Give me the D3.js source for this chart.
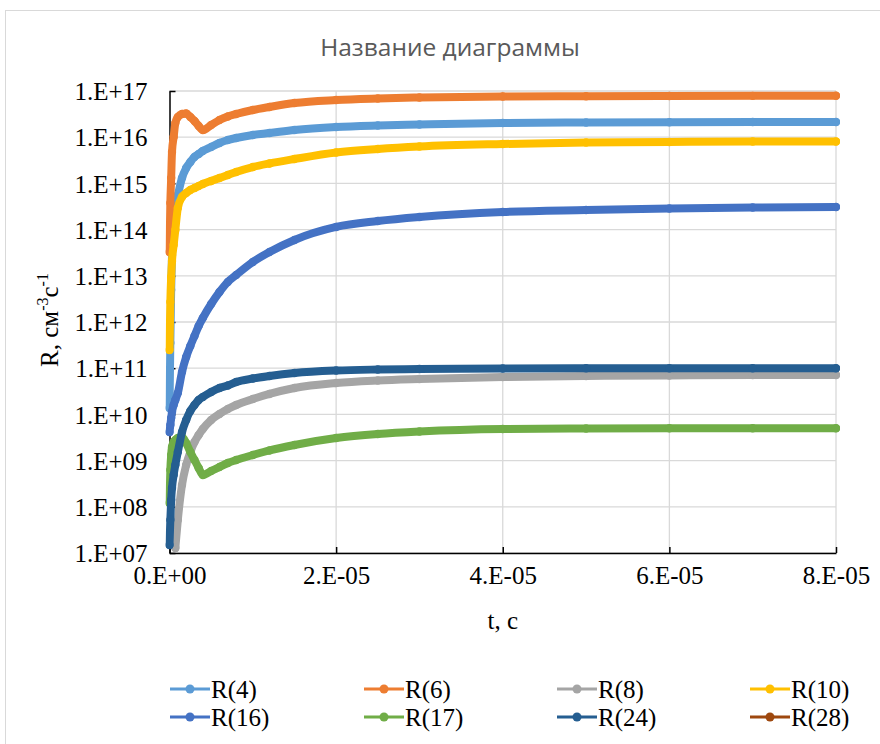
<!DOCTYPE html>
<html>
<head>
<meta charset="utf-8">
<script src="https://cdn.jsdelivr.net/npm/d3@7"></script>
<style>
  body { margin: 0; background: #fff; }
  svg { display: block; }
</style>
</head>
<body>
<svg id="chart" width="880" height="744"></svg>
<script>
// Time grid, s
const times = [0, 1e-7, 2e-7, 3e-7, 5e-7, 7e-7, 1e-6, 1.5e-6, 2e-6, 2.5e-6, 3e-6, 3.5e-6,
  4e-6, 5e-6, 6e-6, 7e-6, 8e-6, 1e-5, 1.2e-5, 1.5e-5, 2e-5, 2.5e-5, 3e-5, 4e-5,
  5e-5, 6e-5, 7e-5, 8e-5];

// Rates R, cm^-3 s^-1 (null = below the axis range)
const r4 = [1.38e10, 3.51e11, 4.93e12, 2.82e13, 1.26e14, 3.40e14, 5.61e14, 1.31e15, 2.15e15,
  2.90e15, 3.73e15, 4.33e15, 5.03e15, 6.14e15, 7.49e15, 8.69e15, 9.62e15, 1.12e16, 1.23e16,
  1.43e16, 1.66e16, 1.79e16, 1.88e16, 2.03e16, 2.08e16, 2.11e16, 2.13e16, 2.14e16];
const r6 = [3.27e13, 3.77e14, 1.31e15, 4.79e15, 1.01e16, 2.03e16, 2.74e16, 3.18e16, 3.26e16,
  2.74e16, 2.24e16, 1.75e16, 1.43e16, 1.84e16, 2.36e16, 2.81e16, 3.18e16, 3.88e16, 4.51e16,
  5.50e16, 6.38e16, 6.88e16, 7.23e16, 7.60e16, 7.70e16, 7.80e16, 7.85e16, 7.90e16];
const r8 = [null, null, null, null, null, 1.28e7, 5.18e7, 2.96e8, 8.04e8, 1.53e9, 2.53e9,
  3.58e9, 4.83e9, 7.57e9, 1.02e10, 1.31e10, 1.60e10, 2.15e10, 2.77e10, 3.72e10, 4.79e10,
  5.42e10, 5.83e10, 6.45e10, 6.78e10, 6.95e10, 7.13e10, 7.15e10];
const r10 = [2.48e11, 2.71e12, 9.42e12, 2.09e13, 4.64e13, 9.80e13, 2.94e14, 5.08e14, 6.20e14,
  7.19e14, 7.94e14, 8.79e14, 9.70e14, 1.13e15, 1.31e15, 1.52e15, 1.77e15, 2.26e15, 2.70e15,
  3.37e15, 4.67e15, 5.56e15, 6.29e15, 7.13e15, 7.68e15, 7.87e15, 8.07e15, 8.10e15];
const r16 = [4.16e9, 5.90e9, 8.36e9, 1.13e10, 1.60e10, 2.05e10, 2.90e10, 8.28e10, 1.75e11,
  3.03e11, 4.98e11, 8.19e11, 1.22e12, 2.45e12, 4.46e12, 7.34e12, 1.04e13, 1.99e13, 3.27e13,
  5.96e13, 1.14e14, 1.53e14, 1.87e14, 2.40e14, 2.65e14, 2.86e14, 3.01e14, 3.08e14];
const r17 = [1.21e8, 6.27e8, 1.32e9, 1.97e9, 2.53e9, 2.79e9, 3.08e9, 3.24e9, 2.40e9, 1.53e9,
  1.03e9, 6.92e8, 4.88e8, 5.96e8, 7.27e8, 8.87e8, 1.03e9, 1.32e9, 1.66e9, 2.18e9, 3.08e9,
  3.77e9, 4.27e9, 4.83e9, 4.95e9, 5.0e9, 5.0e9, 5.0e9];
const r24 = [1.49e7, 5.18e7, 1.40e8, 2.55e8, 4.88e8, 8.04e8, 1.53e9, 4.16e9, 7.57e9, 1.19e10,
  1.60e10, 2.05e10, 2.38e10, 3.05e10, 3.72e10, 4.23e10, 5.02e10, 5.98e10, 6.78e10, 7.87e10,
  8.91e10, 9.37e10, 9.61e10, 9.86e10, 9.96e10, 1.0e11, 1.0e11, 1.0e11];
const r28 = [];

const seriesNames = ["R(4)", "R(6)", "R(8)", "R(10)", "R(16)", "R(17)", "R(24)", "R(28)"];
const seriesValues = [r4, r6, r8, r10, r16, r17, r24, r28];
const seriesColors = ["#5B9BD5", "#ED7D31", "#A5A5A5", "#FFC000", "#4472C4", "#70AD47", "#255E91", "#9E480E"];

const xTicks = [0, 2e-5, 4e-5, 6e-5, 8e-5];
const xTickLabels = ["0.E+00", "2.E-05", "4.E-05", "6.E-05", "8.E-05"];
const yTicks = [1e7, 1e8, 1e9, 1e10, 1e11, 1e12, 1e13, 1e14, 1e15, 1e16, 1e17];
const yTickLabels = ["1.E+07", "1.E+08", "1.E+09", "1.E+10", "1.E+11", "1.E+12",
  "1.E+13", "1.E+14", "1.E+15", "1.E+16", "1.E+17"];

const titleText = "Название диаграммы";
const xTitle = "t, c";

const svg = d3.select("#chart");
const W = 880, H = 744;
const plot = { left: 169.5, right: 836, top: 91, bottom: 553 };
const serif = "'Liberation Serif', 'Times New Roman', serif";
const labelSize = 25;

const x = d3.scaleLinear().domain([0, 8e-5]).range([plot.left, plot.right]);
const y = d3.scaleLog().domain([1e7, 1e17]).range([plot.bottom, plot.top]);

// chart area frame
svg.append("rect")
  .attr("x", 5.5).attr("y", 10.5).attr("width", W + 20).attr("height", H + 20)
  .attr("fill", "#fff").attr("stroke", "#d9d9d9").attr("stroke-width", 1);

// title
svg.append("text")
  .attr("x", 450).attr("y", 56)
  .attr("text-anchor", "middle")
  .attr("font-family", "'Open Sans', sans-serif")
  .attr("font-size", 24.5)
  .attr("fill", "#595959")
  .text(titleText);

// gridlines
const grid = svg.append("g").attr("stroke", "#d9d9d9").attr("stroke-width", 1.3);
grid.selectAll("line.h").data(yTicks).join("line")
  .attr("x1", plot.left).attr("x2", plot.right)
  .attr("y1", d => y(d)).attr("y2", d => y(d));
grid.selectAll("line.v").data(xTicks.slice(1)).join("line")
  .attr("y1", plot.top).attr("y2", plot.bottom)
  .attr("x1", d => x(d)).attr("x2", d => x(d));

// axes
const xAxis = d3.axisBottom(x).tickValues(xTicks)
  .tickFormat((d, i) => xTickLabels[i]).tickSizeInner(-6).tickSizeOuter(0).tickPadding(13);
const yAxis = d3.axisLeft(y).tickValues(yTicks)
  .tickFormat((d, i) => yTickLabels[i]).tickSizeInner(-6).tickSizeOuter(0).tickPadding(22);

const gx = svg.append("g").attr("transform", `translate(0,${plot.bottom})`).call(xAxis);
const gy = svg.append("g").attr("transform", `translate(${plot.left},0)`).call(yAxis);
[gx, gy].forEach(g => {
  g.select(".domain").attr("stroke", "#000").attr("stroke-width", 1.5);
  g.selectAll(".tick line").attr("stroke", "#000").attr("stroke-width", 1.5);
  g.selectAll(".tick text")
    .attr("font-family", serif)
    .attr("font-size", labelSize).attr("fill", "#000");
});
gx.selectAll(".tick text").attr("dy", "0.71em");
gy.selectAll(".tick text").attr("dy", "0.35em");

// axis titles
svg.append("text")
  .attr("x", (plot.left + plot.right) / 2).attr("y", 629)
  .attr("text-anchor", "middle")
  .attr("font-family", serif)
  .attr("font-size", labelSize).attr("fill", "#000")
  .text(xTitle);

const yt = svg.append("text")
  .attr("transform", `translate(58,${(plot.top + plot.bottom) / 2 - 2}) rotate(-90)`)
  .attr("text-anchor", "middle")
  .attr("font-family", serif)
  .attr("font-size", labelSize).attr("fill", "#000");
yt.append("tspan").text("R, см");
yt.append("tspan").attr("font-size", 16).attr("dy", -10).text("-3");
yt.append("tspan").attr("dy", 10).text("с");
yt.append("tspan").attr("font-size", 16).attr("dy", -10).text("-1");

// series
svg.append("clipPath").attr("id", "plotClip")
  .append("rect")
  .attr("x", plot.left - 4).attr("y", plot.top - 4)
  .attr("width", plot.right - plot.left + 8).attr("height", plot.bottom - plot.top + 8);

const line = d3.line().curve(d3.curveMonotoneX).x(d => x(d.t)).y(d => y(d.v));
const series = svg.append("g").attr("clip-path", "url(#plotClip)");

seriesValues.forEach((vals, k) => {
  const pts = times.map((t, i) => ({ t, v: vals[i] }))
    .filter(p => p.v != null && p.v > 0);
  if (!pts.length) return;
  const g = series.append("g");
  g.append("path").datum(pts)
    .attr("d", line)
    .attr("fill", "none")
    .attr("stroke", seriesColors[k])
    .attr("stroke-width", 8)
    .attr("stroke-linejoin", "round")
    .attr("stroke-linecap", "round");
  g.selectAll("circle").data(pts).join("circle")
    .attr("cx", d => x(d.t)).attr("cy", d => y(d.v))
    .attr("r", 4.2)
    .attr("fill", seriesColors[k]);
});

// legend
const legendCols = [170, 364, 557, 750];
const legendRows = [689, 717];
const legend = svg.append("g");
seriesNames.forEach((name, k) => {
  const lx = legendCols[k % 4], ly = legendRows[Math.floor(k / 4)];
  const g = legend.append("g").attr("transform", `translate(${lx},${ly})`);
  g.append("line").attr("x1", 0).attr("x2", 40).attr("y1", 0).attr("y2", 0)
    .attr("stroke", seriesColors[k]).attr("stroke-width", 3);
  g.append("circle").attr("cx", 20).attr("cy", 0).attr("r", 4.5).attr("fill", seriesColors[k]);
  g.append("text").attr("x", 41).attr("y", 0).attr("dy", "0.35em")
    .attr("font-family", serif)
    .attr("font-size", labelSize).attr("fill", "#000")
    .text(name);
});
</script>
</body>
</html>
